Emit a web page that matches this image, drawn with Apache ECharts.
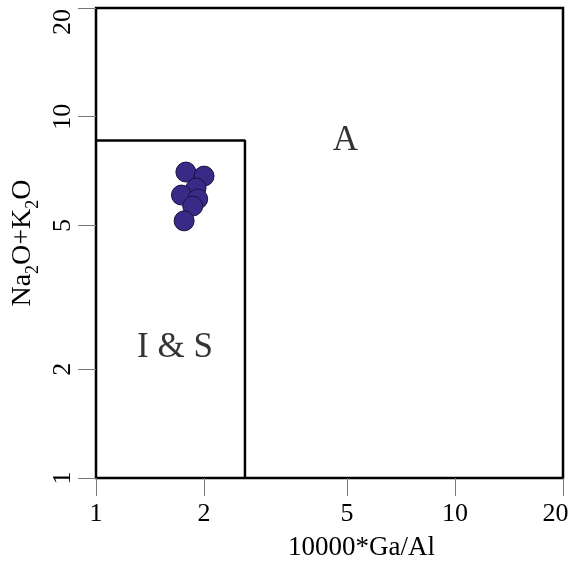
<!DOCTYPE html>
<html><head><meta charset="utf-8">
<script src="https://cdn.jsdelivr.net/npm/echarts@6/dist/echarts.min.js"></script>
<style>html,body{margin:0;padding:0;background:#fff}#c{width:574px;height:567px}</style>
</head><body><div id="c"></div>
<script>
// Sample data: 10000*Ga/Al vs Na2O+K2O
const gaAl = [1.78, 2.00, 1.90, 1.73, 1.92, 1.86, 1.76];
const alkali = [7.03, 6.85, 6.35, 6.07, 5.92, 5.66, 5.15];
// Field boundary (I & S vs A)
const boundaryX = [2.6, 2.6, 1];
const boundaryY = [1, 8.6, 8.6];
const xTicks = [1, 2, 5, 10, 20];
const yTicks = [1, 2, 5, 10, 20];
const fieldLabels = ['A', 'I & S'];
const fieldPos = [[4.95, 8.6], [1.66, 2.3]];

const font = '"Liberation Serif", "Times New Roman", serif';
const chart = echarts.init(document.getElementById('c'), null, {renderer: 'canvas'});
chart.setOption({
  animation: false,
  backgroundColor: '#fff',
  grid: {left: 96, right: 11, top: 8, bottom: 89, containLabel: false, outerBoundsMode: 'none',
         show: true, borderColor: '#000', borderWidth: 2.5, backgroundColor: 'transparent'},
  xAxis: {
    type: 'log', logBase: 10, min: 1, max: 20,
    name: '10000*Ga/Al', nameLocation: 'middle', nameGap: 56,
    nameTextStyle: {fontFamily: font, fontSize: 27, color: '#000', padding: [0, 0, 0, 64]},
    axisLine: {show: false},
    axisTick: {show: true, inside: false, length: 18, lineStyle: {color: '#777', width: 1}, customValues: xTicks},
    axisLabel: {fontFamily: font, fontSize: 26, color: '#000', margin: 23, customValues: xTicks,
      formatter: v => v === 20 ? '{e|20}' : String(v),
      rich: {e: {fontFamily: font, fontSize: 26, color: '#000', padding: [0, 15, 0, 0]}}},
    splitLine: {show: false}, minorTick: {show: false}
  },
  yAxis: {
    type: 'log', logBase: 10, min: 1, max: 20,
    name: '{a|Na}{s|2}{a|O+K}{s|2}{a|O}', nameLocation: 'middle', nameGap: 51, nameRotate: 90,
    nameTextStyle: {
      fontFamily: font, fontSize: 28, color: '#000',
      rich: {
        a: {fontFamily: font, fontSize: 28, color: '#000', verticalAlign: 'bottom', padding: [0, 0, 5, 0]},
        s: {fontFamily: font, fontSize: 18, color: '#000', verticalAlign: 'bottom'}
      }
    },
    axisLine: {show: false},
    axisTick: {show: true, inside: false, length: 18, lineStyle: {color: '#777', width: 1}, customValues: yTicks},
    axisLabel: {fontFamily: font, fontSize: 26, color: '#000', margin: 20, rotate: 90, customValues: yTicks,
      formatter: v => v === 20 ? '{e|20}' : String(v),
      rich: {e: {fontFamily: font, fontSize: 26, color: '#000', padding: [0, 28, 0, 0]}}},
    splitLine: {show: false}, minorTick: {show: false}
  },
  series: [
    {
      type: 'line', data: boundaryX.map((x, i) => [x, boundaryY[i]]),
      symbol: 'none', lineStyle: {color: '#000', width: 2.5}, z: 3, silent: true
    },
    {
      type: 'scatter', data: gaAl.map((x, i) => [x, alkali[i]]),
      symbol: 'circle', symbolSize: 20,
      itemStyle: {color: '#3a2a88', borderColor: '#1a1240', borderWidth: 1, opacity: 1}, z: 5
    },
    {
      type: 'scatter', data: fieldPos.map((p, i) => ({value: p, name: fieldLabels[i]})),
      symbolSize: 0,
      label: {show: true, position: 'inside', formatter: p => p.name, fontFamily: font, fontSize: 35, color: '#000', textBorderWidth: 0},
      z: 6, silent: true
    }
  ]
});
</script></body></html>
